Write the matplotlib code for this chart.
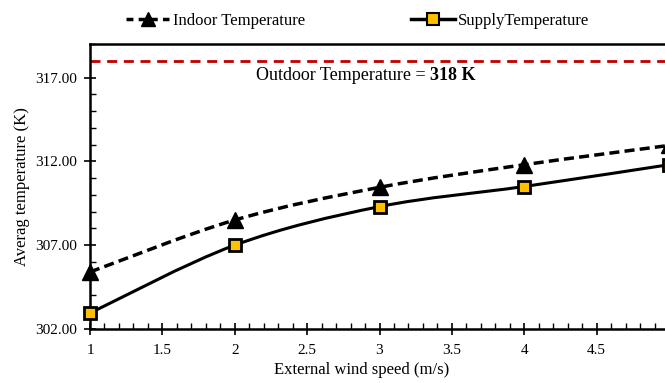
import matplotlib
matplotlib.use("Agg")
import matplotlib.pyplot as plt
from matplotlib.path import Path
from matplotlib.patches import PathPatch
from matplotlib.lines import Line2D
from matplotlib.ticker import MultipleLocator, FormatStrFormatter, FixedLocator, FixedFormatter

plt.rcParams['font.family'] = ['Liberation Serif', 'DejaVu Serif']

wind_speed = [1, 2, 3, 4, 5]
indoor_temp = [305.4, 308.5, 310.45, 311.8, 312.95]
supply_temp = [302.95, 307.0, 309.3, 310.5, 311.8]
outdoor_temp = 318
y_ticks = [302, 307, 312, 317]
x_ticks = [1, 1.5, 2, 2.5, 3, 3.5, 4, 4.5]
x_tick_labels = ["1", "1.5", "2", "2.5", "3", "3.5", "4", "4.5"]


def smooth_path(xs, ys):
    # excel-like smoothed line: bezier segments with catmull-rom controls
    pts = list(zip(xs, ys))
    n = len(pts)
    verts = [pts[0]]
    codes = [Path.MOVETO]
    for i in range(n - 1):
        p0 = pts[i - 1] if i > 0 else pts[i]
        p1 = pts[i]
        p2 = pts[i + 1]
        p3 = pts[i + 2] if i + 2 < n else pts[i + 1]
        c1 = (p1[0] + (p2[0] - p0[0]) / 6, p1[1] + (p2[1] - p0[1]) / 6)
        c2 = (p2[0] - (p3[0] - p1[0]) / 6, p2[1] - (p3[1] - p1[1]) / 6)
        verts += [c1, c2, p2]
        codes += [Path.CURVE4] * 3
    return Path(verts, codes)


W, H = 665, 383
fig = plt.figure(figsize=(W / 100, H / 100), dpi=100)
ax = fig.add_axes([90 / W, 1 - 329 / H, (669 - 90) / W, (329 - 44) / H])

ax.set_xlim(1, 5)
ax.set_ylim(302, 319)

ax.axhline(outdoor_temp, color='#C00000', lw=2, dashes=(3.6, 2.4), zorder=2)
ax.text(3.35, 317.15, "Outdoor Temperature = ", ha='right', va='center', fontsize=13)
ax.text(3.35, 317.15, "318 K", ha='left', va='center', fontsize=13, fontweight='bold')

ax.add_patch(PathPatch(smooth_path(wind_speed, indoor_temp), fill=False,
                       edgecolor='black', lw=2.5, linestyle=(0, (2.9, 1.5)), zorder=3))
ax.add_patch(PathPatch(smooth_path(wind_speed, supply_temp), fill=False,
                       edgecolor='black', lw=2.2, zorder=3))
ax.plot(wind_speed, indoor_temp, linestyle='none', marker='^', ms=12,
        color='black', clip_on=False, zorder=4)
ax.plot(wind_speed, supply_temp, linestyle='none', marker='s', ms=9,
        markerfacecolor='#FFC000', markeredgecolor='black', mew=2,
        clip_on=False, zorder=4)

ax.xaxis.set_major_locator(FixedLocator(x_ticks))
ax.xaxis.set_major_formatter(FixedFormatter(x_tick_labels))
ax.xaxis.set_minor_locator(MultipleLocator(0.1))
ax.yaxis.set_major_locator(FixedLocator(y_ticks))
ax.yaxis.set_minor_locator(MultipleLocator(1))
ax.yaxis.set_major_formatter(FormatStrFormatter('%.2f'))

ax.tick_params(which='major', direction='inout', length=8, width=1.2, labelsize=11)
ax.tick_params(axis='x', which='major', pad=7)
ax.tick_params(axis='y', which='major', pad=5)
ax.tick_params(which='minor', direction='in', length=4, width=1)
for s in ax.spines.values():
    s.set_linewidth(1.8)

ax.set_xlabel("External wind speed (m/s)", fontsize=12)
ax.xaxis.set_label_coords((362 - 90) / 579, -0.116)
ax.set_ylabel("Averag temperature (K)", fontsize=12, labelpad=4)

handles = [
    Line2D([], [], color='black', lw=2.5, linestyle=(0, (2, 1.5)), marker='^', ms=10),
    Line2D([], [], color='black', lw=2.5, marker='s', ms=8,
           markerfacecolor='#FFC000', markeredgecolor='black', mew=1.5),
]
fig.legend(handles, ["Indoor Temperature", "SupplyTemperature"], ncol=2, frameon=False,
           loc='center left', bbox_to_anchor=(111 / W, 1 - 21 / H), fontsize=12,
           handlelength=2.6, handletextpad=0.2, columnspacing=6.4)

fig.savefig("out.png", dpi=100)
